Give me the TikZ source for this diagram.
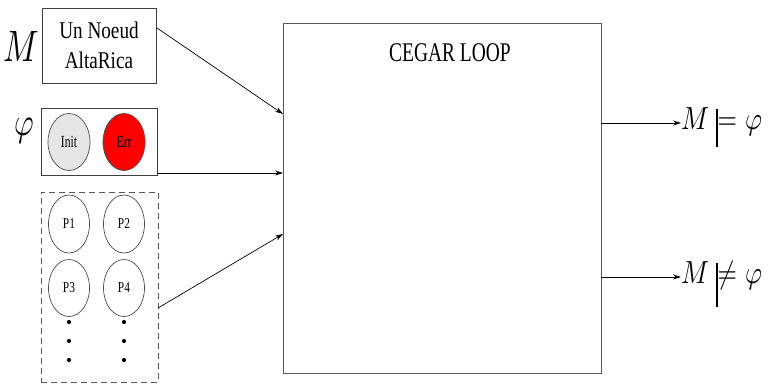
\documentclass[tikz,border=0pt]{standalone}
\usepackage{graphicx}
\usepackage{fontspec}
\setmainfont{Liberation Serif}
\usetikzlibrary{arrows.meta,shapes.geometric}
\newcommand\sq[2][0.72]{\scalebox{#1}[1]{#2}}
\newcommand\mth[3]{{\fontsize{10}{10}\selectfont\scalebox{#1}[#2]{$#3$}}}
\tikzset{
  box/.style={draw=black!75, line width=0.8pt, inner sep=0pt},
  ell/.style={ellipse, draw=black!70, line width=0.7pt, minimum width=#1, inner sep=0pt},
  arr/.style={-{Stealth[length=8pt,width=5pt]}, line width=0.7pt},
  dot/.style={circle, fill=black, inner sep=0pt, minimum size=4.2pt},
  small/.style={font=\fontsize{17}{17}\selectfont},
  pfont/.style={font=\fontsize{15}{15}\selectfont},
}
\begin{document}
\begin{tikzpicture}[x=1pt,y=-1pt]
\useasboundingbox (0,0) rectangle (769,384);
% M box
\node[box, minimum width=114pt, minimum height=75pt, align=center, font=\fontsize{24}{30}\selectfont] (mbox) at (99,45.5) {\sq[0.8]{Un Noeud}\\\sq[0.8]{AltaRica}};
\node[inner sep=0pt] (mlab) at (21,46) {\mth{3.3}{4.4}{M}};
% phi box
\node[box, minimum width=116pt, minimum height=67pt] (pbox) at (99,141.5) {};
\node[inner sep=0pt] (plab) at (24,131) {\mth{3.0}{4.0}{\varphi}};
\node[ell=42pt, minimum height=57pt, fill=black!10, small] (init) at (69,142) {\sq[0.68]{Init}};
\node[ell=42pt, minimum height=57pt, fill=red, small] (err) at (124,142) {\sq[0.68]{Err}};
% dashed box
\node[box, draw=black!65, dashed, dash pattern=on 6pt off 4pt, minimum width=117pt, minimum height=190pt] (dbox) at (99.5,287) {};
\node[ell=41pt, minimum height=58pt, pfont] (p1) at (69,224) {\sq[0.76]{P1}};
\node[ell=41pt, minimum height=58pt, pfont] (p2) at (124,224) {\sq[0.76]{P2}};
\node[ell=41pt, minimum height=57pt, pfont] (p3) at (69,288) {\sq[0.76]{P3}};
\node[ell=41pt, minimum height=57pt, pfont] (p4) at (124,288) {\sq[0.76]{P4}};
\foreach \x/\n in {69/a,124/b}{
  \foreach \y/\m in {322/1,341/2,360/3}{
    \node[dot] (d\n\m) at (\x,\y) {};
  }
}
% CEGAR box
\node[box, draw=black!65, minimum width=318pt, minimum height=350pt] (cegar) at (442,198) {};
\node[font=\fontsize{27}{27}\selectfont] (ctitle) at (450,53) {\sq{CEGAR LOOP}};
% inputs
\coordinate (a1) at (283,114);
\coordinate (a2) at (283,173);
\coordinate (a3) at (283,234);
\coordinate (s1) at (157,28);
\coordinate (s2) at (157,173);
\coordinate (s3) at (158,308);
\draw[arr] (s1) -- (a1);
\draw[arr] (s2) -- (a2);
\draw[arr] (s3) -- (a3);
% outputs
\node[anchor=base west, inner sep=0pt] (ok) at (681,129)
  {\mth{2.6}{3.2}{M}\hspace{7pt}\vrule width 1.8pt height 20pt depth 18pt\hspace{-0.5pt}\mth{2.5}{3.2}{=}\hspace{8pt}\mth{2.6}{3.2}{\varphi}};
\node[anchor=base west, inner sep=0pt] (ko) at (681,283)
  {\mth{2.6}{3.2}{M}\hspace{7pt}\vrule width 1.8pt height 20pt depth 24pt\hspace{-0.5pt}\mth{2.5}{3.2}{\neq}\hspace{8pt}\mth{2.6}{3.2}{\varphi}};
\coordinate (o1) at (601,123);
\coordinate (o2) at (601,277);
\draw[arr] (o1) -- (o1 -| ok.west);
\draw[arr] (o2) -- (o2 -| ko.west);
\end{tikzpicture}
\end{document}
